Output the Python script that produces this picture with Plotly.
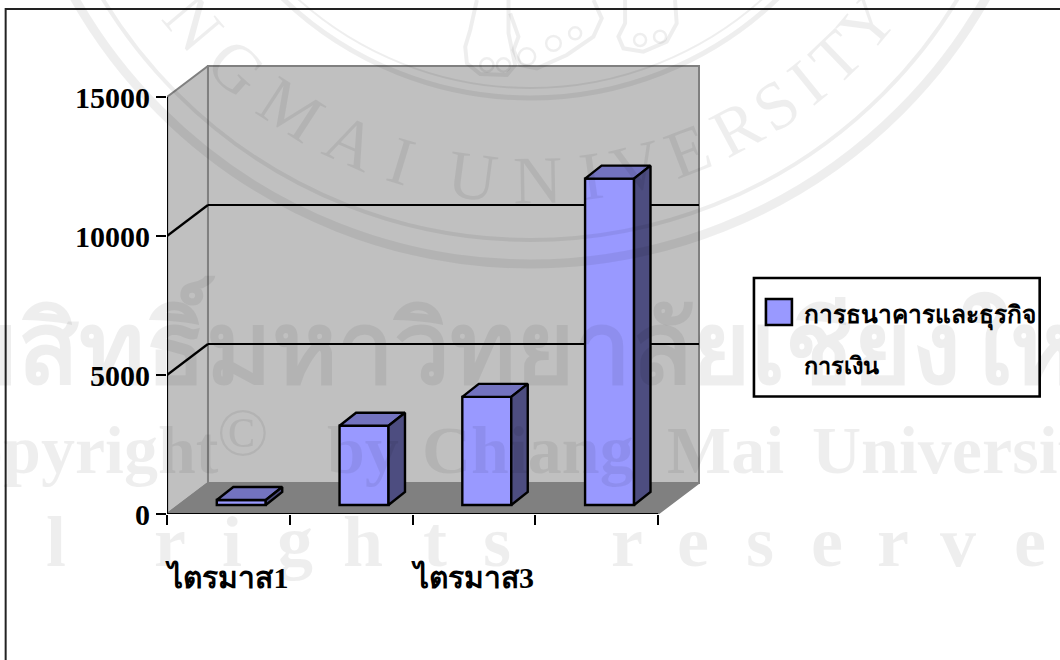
import math
import plotly.graph_objects as go

# ---------- data ----------
categories = ["ไตรมาส1", "ไตรมาส2", "ไตรมาส3", "ไตรมาส4"]
shown_labels = ["ไตรมาส1", "", "ไตรมาส3", ""]
series_name = "การธนาคารและธุรกิจ<br>การเงิน"
values = [180, 2850, 3890, 11740]
y_ticks = [0, 5000, 10000, 15000]

# ---------- geometry ----------
W, H = 1060, 660
L, R, T, B = 166.5, 700.0, 65.0, 514.0
PX_PER_CAT = 122.875
PX_PER_UNIT = 417.0 / 15000
X0 = 0.5
XN = 4.5
YTOP = 15000
xrange_ = [X0, X0 + (R - L) / PX_PER_CAT]
yrange_ = [0, (B - T) / PX_PER_UNIT]
DX = 41.0 / PX_PER_CAT          # full chart depth
DY = 31.0 / PX_PER_UNIT
BAR_OFF = 0.105                 # bars stand inside the floor
BAR_BASE = 9.0 / PX_PER_UNIT
BAR_W = 49.0 / PX_PER_CAT
BDX = 16.5 / PX_PER_CAT         # bar depth
BDY = 13.0 / PX_PER_UNIT

FRONT, TOPC, SIDE = "#9999FF", "#7373BF", "#4D4D80"
WALL, FLOOR, EDGE = "#C0C0C0", "#808080", "#808080"
xs = [i + 1 for i in range(len(categories))]


def px(x):
    return (x - L) / (R - L)


def py(y):
    return (B - y) / (B - T)


fig = go.Figure()

# front faces through the bar scale
fig.add_trace(go.Bar(
    x=[x + BAR_OFF for x in xs], y=values, base=BAR_BASE, width=BAR_W,
    marker=dict(color=FRONT, line=dict(color="black", width=2.4)),
    name=series_name, showlegend=False, hoverinfo="skip"))

# top and side faces derived from the same values
for x, v in zip(xs, values):
    x1 = x + BAR_OFF - BAR_W / 2
    x2 = x + BAR_OFF + BAR_W / 2
    y1 = BAR_BASE
    y2 = BAR_BASE + v
    fig.add_trace(go.Scatter(
        x=[x1, x2, x2 + BDX, x1 + BDX, x1], y=[y2, y2, y2 + BDY, y2 + BDY, y2],
        mode="lines", fill="toself", fillcolor=TOPC,
        line=dict(color="black", width=2.4), showlegend=False, hoverinfo="skip"))
    fig.add_trace(go.Scatter(
        x=[x2, x2 + BDX, x2 + BDX, x2, x2], y=[y1, y1 + BDY, y2 + BDY, y2, y1],
        mode="lines", fill="toself", fillcolor=SIDE,
        line=dict(color="black", width=2.4), showlegend=False, hoverinfo="skip"))

shapes = []


def poly(xv, yv, fill, line, width=1.5, layer="below"):
    p = "M" + "L".join(f"{a},{b}" for a, b in zip(xv, yv)) + "Z"
    shapes.append(dict(type="path", path=p, xref="x", yref="y", fillcolor=fill,
                       line=dict(color=line, width=width), layer=layer))


def seg(x0, y0, x1, y1, color="black", width=2, layer="below"):
    shapes.append(dict(type="line", x0=x0, y0=y0, x1=x1, y1=y1, xref="x", yref="y",
                       line=dict(color=color, width=width), layer=layer))


# walls and floor
poly([X0 + DX, XN + DX, XN + DX, X0 + DX], [DY, DY, YTOP + DY, YTOP + DY], WALL, EDGE, 2)
poly([X0, X0 + DX, X0 + DX, X0], [0, DY, YTOP + DY, YTOP], WALL, EDGE, 2)
poly([X0, XN, XN + DX, X0 + DX], [0, 0, DY, DY], FLOOR, EDGE, 1.5)
# gridlines
for t in y_ticks[1:-1]:
    seg(X0, t, X0 + DX, t + DY, width=2.2)
    seg(X0 + DX, t + DY, XN + DX, t + DY, width=2.2)
# axis lines
seg(X0, 0, X0, YTOP, layer="above", width=2.2)
seg(X0, 0, XN, 0, layer="above", width=2.2)


def pshape(kind, x0, y0, x1, y1, line="black", width=2, fill=None, layer="above"):
    shapes.append(dict(type=kind, xref="paper", yref="paper", x0=px(x0), x1=px(x1),
                       y0=py(y0), y1=py(y1), line=dict(color=line, width=width),
                       fillcolor=fill, layer=layer))


# outer frame, running off the page on the right and bottom
pshape("rect", 5, 9, 1075, 680, line="#222222", width=2, layer="below")

# legend box
pshape("rect", 754, 278, 1040, 396.5, width=2.6, fill="white")
pshape("rect", 766, 299, 792, 325, width=2.6, fill=FRONT)

WM = "rgba(0,0,0,0.068)"
# seal rings
CX, CY = 530, -260
for r, w in [(524, 9), (500, 4), (358, 5), (348, 2)]:
    pshape("circle", CX - r, CY - r, CX + r, CY + r, line=WM, width=w)


# emblem feet of the seal, outlined (coordinates relative to the seal's crop)
def zoom_path(points, close=False):
    pts = [f"{px(380 + a / 3)},{py(b / 3)}" for a, b in points]
    return "M" + "L".join(pts) + ("Z" if close else "")


feet = [
    [(290, 0), (270, 90), (255, 140), (260, 190), (300, 222), (380, 225), (405, 195), (385, 100), (385, 0)],
    [(390, 40), (415, 110), (400, 150), (420, 195), (470, 205), (560, 165), (640, 110), (665, 55), (640, 0)],
    [(735, 0), (735, 70), (715, 110), (730, 145), (790, 155), (860, 125), (890, 70), (885, 0)],
]
toes = [(320, 195, 20), (370, 195, 20), (440, 170, 25), (520, 130, 22), (585, 100, 18),
        (780, 120, 18), (840, 110, 18)]
for foot in feet:
    shapes.append(dict(type="path", path=zoom_path(foot), xref="paper", yref="paper",
                       line=dict(color=WM, width=4), layer="above"))
for a, b, r in toes:
    pshape("circle", 380 + (a - r) / 3, (b - r) / 3, 380 + (a + r) / 3, (b + r) / 3, line=WM, width=2.5)

annotations = []


def text(x, y, s, size, color="black", bold=True, family="Liberation Serif",
         anchor="center", vanchor="middle", angle=0):
    annotations.append(dict(
        x=px(x), y=py(y), xref="paper", yref="paper", text=s, showarrow=False,
        xanchor=anchor, yanchor=vanchor, textangle=angle,
        font=dict(family=family, size=size, color=color, weight="bold" if bold else "normal"),
        align="left"))


text(802, 316, "การธนาคารและธุรกิจ", 24.5, anchor="left")
text(802, 366, "การเงิน", 23.5, anchor="left")

# scan watermark
ring_r = 440
ring = [("N", 50), ("G", 42), ("M", 33), ("A", 24), ("I", 17), ("U", 7.5), ("N", -1),
        ("I", -8), ("V", -14), ("E", -21), ("R", -28), ("S", -34), ("I", -39),
        ("T", -44), ("Y", -50)]
for ch, a in ring:
    rad = math.radians(a)
    text(CX - ring_r * math.sin(rad), CY + ring_r * math.cos(rad), ch, 68, color=WM,
         bold=False, angle=a)
text(515, 340, "ลิขสิทธิ์มหาวิทยาลัยเชียงใหม่", 100, color=WM)
text(-83, 450, "Copyright", 68, color=WM, anchor="left")
text(243, 432, "©", 68, color=WM, bold=False)
text(325, 450, "by", 68, color=WM, anchor="left")
text(420, 450, "Chiang", 68, color=WM, anchor="left")
text(665, 450, "Mai", 68, color=WM, anchor="left")
text(810, 450, "University", 68, color=WM, anchor="left")
rights = [("l", 55), ("r", 170), ("i", 232), ("g", 295), ("h", 363), ("t", 435), ("s", 497),
          ("r", 627), ("e", 693), ("s", 760), ("e", 827), ("r", 893), ("v", 958), ("e", 1030)]
for ch, x in rights:
    text(x, 542, ch, 72, color=WM)

fig.update_layout(
    width=W, height=H, autosize=False,
    margin=dict(l=L, r=W - R, t=T, b=H - B, pad=0),
    paper_bgcolor="white", plot_bgcolor="rgba(0,0,0,0)",
    showlegend=False, barmode="overlay",
    shapes=shapes, annotations=annotations,
    xaxis=dict(
        range=xrange_, showgrid=False, zeroline=False, showline=False,
        tickmode="array", tickvals=xs, ticktext=shown_labels, ticks="",
        ticklabelstandoff=43, fixedrange=True,
        tickfont=dict(family="Liberation Serif", size=30, color="black", weight="bold"),
        minor=dict(tickmode="array", tickvals=[0.5, 1.5, 2.5, 3.5, 4.5], ticks="outside",
                   ticklen=10, tickwidth=2, tickcolor="black", showgrid=False)),
    yaxis=dict(
        range=yrange_, showgrid=False, zeroline=False, showline=False,
        tickmode="array", tickvals=y_ticks, ticktext=[str(t) for t in y_ticks],
        ticks="outside", ticklen=10, tickwidth=2, tickcolor="black", fixedrange=True,
        tickfont=dict(family="Liberation Serif", size=30, color="black", weight="bold")),
)

fig.write_html("out.html", config={"displayModeBar": False},
               post_script="document.body.style.margin='0';")
